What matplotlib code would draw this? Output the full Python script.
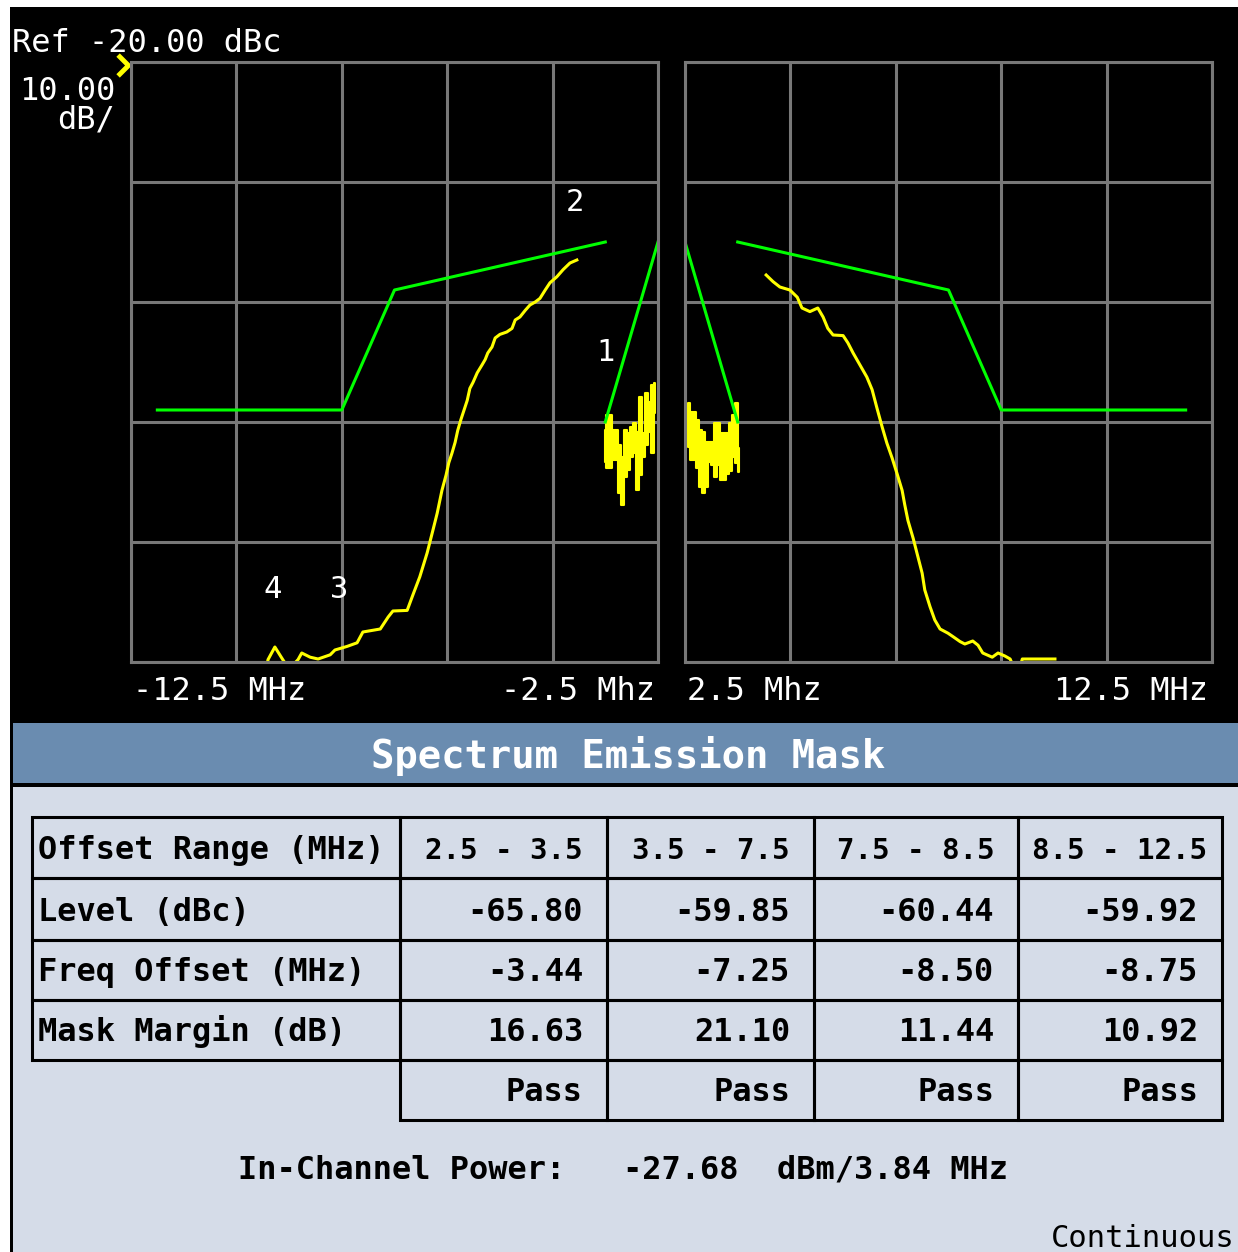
import matplotlib
matplotlib.use('Agg')
import matplotlib.pyplot as plt
from matplotlib.patches import Rectangle

W, H = 1238, 1252
MONO = 'DejaVu Sans Mono'
GRID = '#787878'
BAR = '#6a8cb0'
PANEL = '#d5dce8'

# mask limit lines (offset MHz, dBc)
mask_l_freq = [-12.0, -8.5, -7.5, -3.5]
mask_l_level = [-49.0, -49.0, -39.0, -35.0]
mask_li_freq = [-3.5, -2.5]
mask_li_level = [-50.0, -35.0]
mask_ri_freq = [2.5, 3.5]
mask_ri_level = [-35.0, -50.0]
mask_r_freq = [3.5, 7.5, 8.5, 12.0]
mask_r_level = [-35.0, -39.0, -49.0, -49.0]

# measured trace, lower side
trace_l_freq = [-9.93, -9.90, -9.77, -9.62, -9.50, -9.33, -9.26, -9.10, -8.95,
                -8.72, -8.63, -8.40, -8.21, -8.10, -7.77, -7.62, -7.53, -7.26,
                -7.15, -7.02, -6.88, -6.77, -6.69, -6.60, -6.52, -6.47, -6.41,
                -6.35, -6.30, -6.24, -6.18, -6.12, -6.07, -6.01, -5.93, -5.84,
                -5.78, -5.73, -5.65, -5.59, -5.50, -5.37, -5.27, -5.21, -5.12,
                -5.02, -4.93, -4.83, -4.74, -4.64, -4.55, -4.42, -4.30, -4.17,
                -4.04]
trace_l_level = [-70.6, -69.8, -68.75, -69.8, -70.6, -69.8, -69.25, -69.6, -69.75,
                 -69.4, -69.0, -68.7, -68.4, -67.5, -67.25, -66.25, -65.75, -65.7,
                 -64.4, -62.9, -60.9, -59.0, -57.6, -55.7, -54.4, -53.4, -52.6,
                 -51.7, -50.7, -49.8, -49.0, -48.2, -47.2, -46.7, -45.9, -45.25,
                 -44.8, -44.25, -43.75, -43.0, -42.7, -42.5, -42.2, -41.5, -41.25,
                 -40.7, -40.25, -40.0, -39.7, -39.0, -38.4, -37.9, -37.3, -36.75,
                 -36.5]

# measured trace, upper side
trace_r_freq = [4.04, 4.17, 4.30, 4.49, 4.63, 4.72, 4.87, 5.02, 5.12, 5.21,
                5.31, 5.50, 5.59, 5.69, 5.82, 5.95, 6.05, 6.14, 6.24, 6.33,
                6.43, 6.52, 6.62, 6.67, 6.73, 6.83, 6.90, 7.00, 7.05, 7.15,
                7.24, 7.34, 7.49, 7.59, 7.72, 7.81, 7.96, 8.06, 8.15, 8.33,
                8.44, 8.57, 8.67, 8.75, 8.85, 8.90, 9.24, 9.52]
trace_r_level = [-37.75, -38.3, -38.75, -39.0, -39.6, -40.5, -40.8, -40.5, -41.25, -42.2,
                 -42.75, -42.8, -43.4, -44.25, -45.25, -46.25, -47.3, -48.8, -50.4, -51.75,
                 -53.0, -54.25, -55.7, -56.9, -58.2, -59.7, -60.9, -62.6, -64.0, -65.4,
                 -66.5, -67.25, -67.6, -67.9, -68.3, -68.5, -68.25, -68.6, -69.25, -69.6,
                 -69.25, -69.5, -69.75, -70.6, -70.6, -69.75, -69.75, -69.75]

# noise near the channel edge: per-bin max / min
noise_l_freq = [-3.51, -3.46, -3.40, -3.34, -3.29, -3.23, -3.17, -3.12, -3.06,
                -3.00, -2.95, -2.89, -2.83, -2.78, -2.72, -2.66, -2.60, -2.55]
noise_l_hi = [-50.7, -49.4, -49.4, -50.7, -50.7, -51.9, -52.9, -50.7, -50.9,
              -50.4, -50.1, -50.8, -47.9, -50.9, -47.6, -48.3, -46.9, -46.75]
noise_l_lo = [-53.3, -53.8, -53.8, -53.2, -53.2, -55.9, -56.9, -54.6, -54.0,
              -52.9, -52.6, -55.7, -54.4, -52.9, -51.9, -50.8, -52.6, -49.25]
noise_r_freq = [2.56, 2.62, 2.68, 2.74, 2.79, 2.85, 2.91, 2.96, 3.02,
                3.08, 3.14, 3.19, 3.25, 3.31, 3.36, 3.42, 3.48, 3.53]
noise_r_hi = [-48.4, -49.2, -49.2, -49.8, -50.7, -50.8, -51.7, -51.7, -51.7,
              -50.1, -50.1, -50.9, -50.9, -50.9, -50.1, -49.4, -48.4, -52.2]
noise_r_lo = [-52.1, -53.2, -53.2, -53.8, -55.4, -55.9, -55.4, -53.3, -53.6,
              -54.6, -53.6, -54.8, -54.8, -54.3, -54.1, -52.9, -53.4, -54.2]

# marker labels: (label, freq, level)
markers = [('2', -4.07, -32.4), ('1', -3.49, -44.9), ('4', -9.82, -64.7), ('3', -8.55, -64.7)]

ref_level = -20.0
db_per_div = 10.0

# results table
offset_ranges = ['2.5 - 3.5', '3.5 - 7.5', '7.5 - 8.5', '8.5 - 12.5']
levels = [-65.80, -59.85, -60.44, -59.92]
freq_offsets = [-3.44, -7.25, -8.50, -8.75]
mask_margins = [16.63, 21.10, 11.44, 10.92]
verdicts = ['Pass', 'Pass', 'Pass', 'Pass']
row_names = ['Offset Range (MHz)', 'Level (dBc)', 'Freq Offset (MHz)', 'Mask Margin (dB)']
in_channel_power = -27.68


fig = plt.figure(figsize=(W / 100, H / 100), dpi=100)
fig.patch.set_facecolor('white')

# background in pixel units
bg = fig.add_axes([0, 0, 1, 1])
bg.set_xlim(0, W)
bg.set_ylim(H, 0)
bg.axis('off')
bg.add_patch(Rectangle((10, 7), W - 10, 716, color='black', lw=0))
bg.add_patch(Rectangle((10, 723), W - 10, 60, color=BAR, lw=0))
bg.add_patch(Rectangle((10, 783), W - 10, 3.5, color='black', lw=0))
bg.add_patch(Rectangle((12.5, 786.5), W, H, color=PANEL, lw=0))
bg.add_patch(Rectangle((10, 723), 2.5, H, color='black', lw=0))

bg.text(12, 52, 'Ref %.2f dBc' % ref_level, color='white', family=MONO, fontsize=23, va='baseline')
bg.text(115, 100, '%.2f' % db_per_div, color='white', family=MONO, fontsize=23, ha='right', va='baseline')
bg.text(115, 128, 'dB/', color='white', family=MONO, fontsize=23, ha='right', va='baseline')


def px_axes(x0, y0, x1, y1):
    return fig.add_axes([x0 / W, 1 - y1 / H, (x1 - x0) / W, (y1 - y0) / H])


axL = px_axes(131, 62, 658, 662)
axR = px_axes(685, 62, 1212, 662)

for ax, lo in [(axL, -12.5), (axR, 2.5)]:
    ax.set_facecolor('black')
    ax.set_xlim(lo, lo + 10)
    ax.set_ylim(ref_level - 5 * db_per_div, ref_level)
    ax.set_xticks([lo + 2 * i for i in range(6)])
    ax.set_yticks([ref_level - db_per_div * i for i in range(6)])
    ax.tick_params(length=0, labelbottom=False, labelleft=False)
    ax.grid(True, color=GRID, lw=2.2)
    ax.set_axisbelow(True)
    for s in ax.spines.values():
        s.set_color(GRID)
        s.set_linewidth(2.2)

# lower offsets
axL.plot(mask_l_freq, mask_l_level, color='#00ff00', lw=2.2)
axL.plot(mask_li_freq, mask_li_level, color='#00ff00', lw=2.2)
axL.plot(trace_l_freq, trace_l_level, color='#ffff00', lw=2.2)
axL.fill_between(noise_l_freq, noise_l_lo, noise_l_hi, step='mid', fc='#ffff00', ec='#ffff00', lw=1.5)

# upper offsets
axR.plot(mask_r_freq, mask_r_level, color='#00ff00', lw=2.2)
axR.plot(mask_ri_freq, mask_ri_level, color='#00ff00', lw=2.2)
axR.plot(trace_r_freq, trace_r_level, color='#ffff00', lw=2.2)
axR.fill_between(noise_r_freq, noise_r_lo, noise_r_hi, step='mid', fc='#ffff00', ec='#ffff00', lw=1.5)

for lab, f, lv in markers:
    axL.text(f, lv, lab, color='white', family=MONO, fontsize=22, ha='center', va='baseline')

# reference level pointer
axL.plot([-12.55], [ref_level - 0.25], marker=[(-1, 1), (0, 0), (-1, -1)], ms=15,
         mfc='none', mec='#ffff00', mew=3.5, clip_on=False)

axL.text(0.004, -0.063, '-12.5 MHz', transform=axL.transAxes, color='white', family=MONO,
         fontsize=23, ha='left', va='baseline')
axL.text(0.995, -0.063, '-2.5 Mhz', transform=axL.transAxes, color='white', family=MONO,
         fontsize=23, ha='right', va='baseline')
axR.text(0.004, -0.063, '2.5 Mhz', transform=axR.transAxes, color='white', family=MONO,
         fontsize=23, ha='left', va='baseline')
axR.text(0.993, -0.063, '12.5 MHz', transform=axR.transAxes, color='white', family=MONO,
         fontsize=23, ha='right', va='baseline')

bg.text(628, 768, 'Spectrum Emission Mask', color='white', family=MONO, fontsize=28,
        weight='bold', ha='center', va='baseline')

# table grid
row_edges = [817, 878, 940, 1000, 1060, 1120]
col_edges = [32, 400, 607, 814, 1018, 1222]
baselines = [859, 921, 981, 1041, 1101]

for r in range(5):
    for c in range(5):
        if r == 4 and c == 0:
            continue
        bg.add_patch(Rectangle((col_edges[c], row_edges[r]), col_edges[c + 1] - col_edges[c],
                               row_edges[r + 1] - row_edges[r], fill=False, ec='black', lw=2.2))

for r, name in enumerate(row_names):
    bg.text(38, baselines[r], name, color='black', family=MONO, fontsize=23, weight='bold',
            va='baseline')

rows = [['%.2f' % v for v in levels],
        ['%.2f' % v for v in freq_offsets],
        ['%.2f' % v for v in mask_margins],
        verdicts]
for c in range(4):
    bg.text((col_edges[c + 1] + col_edges[c + 2]) / 2, baselines[0], offset_ranges[c],
            color='black', family=MONO, fontsize=21, weight='bold', ha='center', va='baseline')
    for r in range(4):
        bg.text(col_edges[c + 2] - 24, baselines[r + 1], rows[r][c], color='black', family=MONO,
                fontsize=23, weight='bold', ha='right', va='baseline')

bg.text(238, 1178, 'In-Channel Power:   %.2f  dBm/3.84 MHz' % in_channel_power, color='black',
        family=MONO, fontsize=23, weight='bold', va='baseline')
bg.text(1235, 1247, 'Continuous', color='black', family=MONO, fontsize=22, ha='right', va='baseline')

plt.savefig('out.png', dpi=100)
